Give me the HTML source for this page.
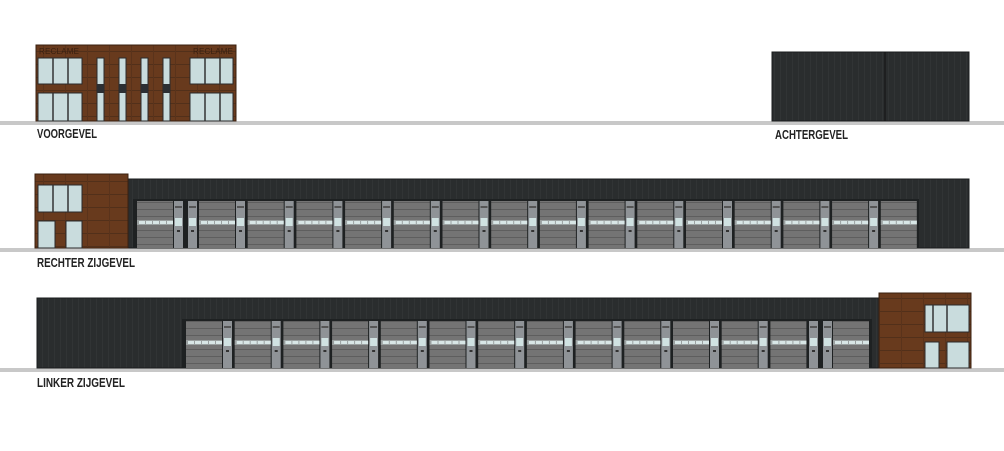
<!DOCTYPE html>
<html><head><meta charset="utf-8"><style>
html,body{margin:0;padding:0;background:#fff;width:1004px;height:451px;overflow:hidden}
svg{display:block}
text{font-family:"Liberation Sans",sans-serif;font-weight:bold;font-size:12.5px;fill:#222}
</style></head><body>
<svg id="s" width="1004" height="451" viewBox="0 0 1004 451" xmlns="http://www.w3.org/2000/svg">
<defs>
<pattern id="brown" width="22" height="13" patternUnits="userSpaceOnUse">
<rect width="22" height="13" fill="#683a1d"/><rect y="12" width="22" height="1" fill="#52301a"/><rect x="21" width="1" height="13" fill="#5a331b"/>
</pattern>
<pattern id="dark" width="6" height="10" patternUnits="userSpaceOnUse">
<rect width="6" height="10" fill="#2a2d2e"/><rect width="1" height="10" fill="#313435"/>
</pattern>
<pattern id="door" width="10" height="7" patternUnits="userSpaceOnUse">
<rect width="10" height="7" fill="#747474"/><rect y="6" width="10" height="1" fill="#5e5e5e"/>
</pattern>
</defs>
<rect x="0" y="121" width="1004" height="4" fill="#c8c8c8"/>
<rect x="0" y="248" width="1004" height="4" fill="#c8c8c8"/>
<rect x="0" y="368" width="1004" height="4" fill="#c8c8c8"/>
<!-- front -->
<rect x="36" y="45" width="200" height="76" fill="url(#brown)" stroke="#3a2010" stroke-width="1"/>
<g fill="#c9dcdd" stroke="#2a2a2a" stroke-width="1">
<rect x="38" y="58" width="44" height="26"/><rect x="190" y="58" width="43" height="26"/>
<rect x="38" y="93" width="44" height="28"/><rect x="190" y="93" width="43" height="28"/>
<rect x="97" y="58" width="7" height="63"/><rect x="119" y="58" width="7" height="63"/>
<rect x="141" y="58" width="7" height="63"/><rect x="163" y="58" width="7" height="63"/>
</g>
<g fill="#2c2f33"><rect x="97" y="84" width="7" height="9"/><rect x="119" y="84" width="7" height="9"/><rect x="141" y="84" width="7" height="9"/><rect x="163" y="84" width="7" height="9"/></g>
<g stroke="#333" stroke-width="1.5"><line x1="53" y1="58" x2="53" y2="84"/><line x1="68" y1="58" x2="68" y2="84"/><line x1="205" y1="58" x2="205" y2="84"/><line x1="220" y1="58" x2="220" y2="84"/>
<line x1="53" y1="93" x2="53" y2="121"/><line x1="68" y1="93" x2="68" y2="121"/><line x1="205" y1="93" x2="205" y2="121"/><line x1="220" y1="93" x2="220" y2="121"/></g>
<text x="39" y="54" textLength="40" style="font-size:8px;font-weight:normal;fill:#3a2010">RECLAME</text>
<text x="193" y="54" textLength="40" style="font-size:8px;font-weight:normal;fill:#3a2010">RECLAME</text>
<text x="37" y="138" textLength="60" lengthAdjust="spacingAndGlyphs">VOORGEVEL</text>
<!-- back -->
<rect x="772" y="52" width="197" height="69" fill="url(#dark)" stroke="#1a1c1d"/>
<line x1="885" y1="52" x2="885" y2="121" stroke="#111"/>
<text x="775" y="139" textLength="73" lengthAdjust="spacingAndGlyphs">ACHTERGEVEL</text>
<!-- right elevation -->
<rect x="128" y="179" width="841" height="69" fill="url(#dark)" stroke="#1a1c1d"/>
<rect x="35" y="174" width="93" height="74" fill="url(#brown)" stroke="#3a2010"/>
<g fill="#c9dcdd" stroke="#2a2a2a"><rect x="38" y="185" width="44" height="27"/><rect x="38" y="221" width="17" height="27"/><rect x="66" y="221" width="16" height="27"/></g>
<g stroke="#333" stroke-width="1.5"><line x1="53" y1="185" x2="53" y2="212"/><line x1="68" y1="185" x2="68" y2="212"/></g>
<rect x="133" y="199" width="786" height="49" fill="#1e2122"/>
<g id="rdoors"></g>
<text x="37" y="267" textLength="98" lengthAdjust="spacingAndGlyphs">RECHTER ZIJGEVEL</text>
<!-- left elevation -->
<rect x="37" y="298" width="843" height="70" fill="url(#dark)" stroke="#1a1c1d"/>
<rect x="182" y="319" width="690" height="49" fill="#1e2122"/>
<g id="ldoors"></g>
<rect x="879" y="293" width="92" height="75" fill="url(#brown)" stroke="#3a2010"/>
<g fill="#c9dcdd" stroke="#2a2a2a"><rect x="925" y="305" width="44" height="27"/><rect x="925" y="342" width="14" height="26"/><rect x="947" y="342" width="22" height="26"/></g>
<g stroke="#333" stroke-width="1.5"><line x1="933" y1="305" x2="933" y2="332"/><line x1="947" y1="305" x2="947" y2="332"/></g>
<text x="37" y="387" textLength="88" lengthAdjust="spacingAndGlyphs">LINKER ZIJGEVEL</text>
</svg>
<script>
var NS="http://www.w3.org/2000/svg";
function r(g,x,y,w,h,f){var e=document.createElementNS(NS,"rect");e.setAttribute("x",x);e.setAttribute("y",y);e.setAttribute("width",w);e.setAttribute("height",h);e.setAttribute("fill",f);g.appendChild(e);}
function door(g,x,top,bot){r(g,x,top,36,bot-top,"url(#door)");r(g,x,top+19,36,5,"#9aa0a0");for(var i=0;i<5;i++)r(g,x+2+i*7,top+20,6,3,"#d8e6e6");}
function ent(g,x,top,bot){r(g,x,top,9,bot-top,"#8f9397");r(g,x+1,top+17,7,8,"#d0e2e2");r(g,x+1,top+5,7,2,"#555");r(g,x+3,top+29,3,2,"#333");}
var P=48.7;
var g=document.getElementById("rdoors"),T=201,B=248;
door(g,137,T,B);ent(g,174,T,B);ent(g,188,T,B);
for(var k=0;k<15;k++){door(g,199+k*P,T,B);if(k<14)ent(g,236+k*P,T,B);}
g=document.getElementById("ldoors");T=321;B=368;
for(var k=0;k<13;k++){door(g,186+k*P,T,B);if(k<12)ent(g,223+k*P,T,B);}
ent(g,809,T,B);ent(g,823,T,B);door(g,833,T,B);
</script>
</body></html>
